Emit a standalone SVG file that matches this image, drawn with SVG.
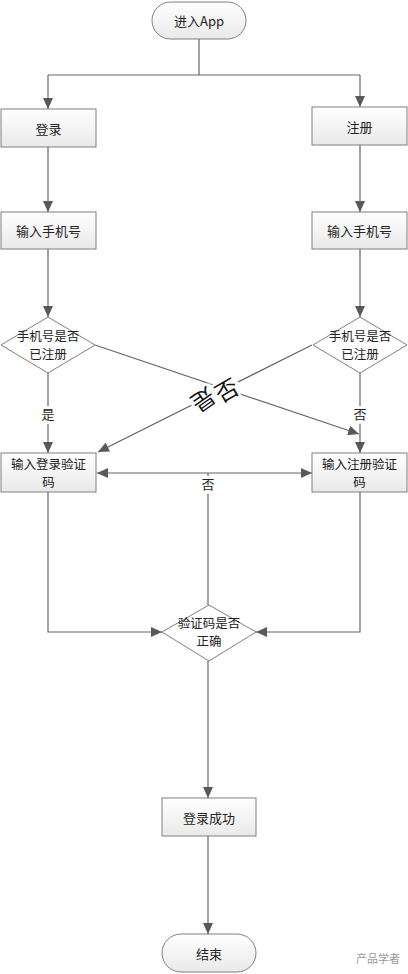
<svg xmlns="http://www.w3.org/2000/svg" width="408" height="974" viewBox="0 0 408 974">
<defs>
<linearGradient id="g" x1="0" y1="0" x2="0" y2="1">
<stop offset="0" stop-color="#ffffff"/>
<stop offset="1" stop-color="#e9e9e9"/>
</linearGradient>
<marker id="ah" markerUnits="userSpaceOnUse" markerWidth="12" markerHeight="10" refX="11" refY="5" orient="auto-start-reverse">
<path d="M0,0 L11,5 L0,10 Z" fill="#595959"/>
</marker>
<style>
.n{fill:url(#g);stroke:#7f7f7f;stroke-width:1}
.d{fill:#ffffff;stroke:#7f7f7f;stroke-width:1}
.t{font-family:"Noto Sans CJK SC","Liberation Sans",sans-serif;font-size:13px;fill:#222;text-anchor:middle;dominant-baseline:central}
.t2{font-size:12.5px}
.c{fill:none;stroke:#666;stroke-width:1.2}
.a{marker-end:url(#ah)}
.lb{font-family:"Noto Sans CJK SC",sans-serif;font-size:13px;fill:#222;text-anchor:middle;dominant-baseline:central;stroke:#fff;stroke-width:6;paint-order:stroke}
.big{font-family:"Noto Sans CJK SC",sans-serif;font-size:23px;fill:#111;text-anchor:middle;dominant-baseline:central;stroke:#fff;stroke-width:5;paint-order:stroke}
</style>
</defs>
<g id="connectors">
<polyline class="c" points="199,39 199,75"/>
<polyline class="c" points="48,75 360,75"/>
<line class="c a" x1="48" y1="75" x2="48" y2="109"/>
<line class="c a" x1="360" y1="75" x2="360" y2="107"/>
<line class="c a" x1="48" y1="147" x2="48" y2="212"/>
<line class="c a" x1="360" y1="145" x2="360" y2="212"/>
<line class="c a" x1="48" y1="249" x2="48" y2="317"/>
<line class="c a" x1="360" y1="249" x2="360" y2="317"/>
<line class="c a" x1="48" y1="373" x2="48" y2="453"/>
<line class="c a" x1="360" y1="373" x2="360" y2="453"/>
<line class="c a" x1="95" y1="345" x2="359" y2="434"/>
<line class="c a" x1="312" y1="345" x2="98" y2="452"/>
<line class="c" x1="208" y1="605" x2="208" y2="473"/>
<line class="c a" x1="208" y1="473" x2="97" y2="473"/>
<line class="c a" x1="208" y1="473" x2="312" y2="473"/>
<polyline class="c a" points="48,492 48,632 162,632"/>
<polyline class="c a" points="360,492 360,632 256,632"/>
<line class="c a" x1="208" y1="661" x2="208" y2="798"/>
<line class="c a" x1="208" y1="836" x2="208" y2="934"/>
<text class="lb" x="48" y="413">是</text>
<text class="lb" x="360" y="413">否</text>
<text class="lb" x="208" y="483">否</text>
<text class="big" transform="translate(226,389) rotate(-30)">否</text>
<text class="big" transform="translate(204,401) rotate(145)">是</text>
</g>
<g id="start">
<rect class="n" x="152" y="2" width="94" height="37" rx="18.5"/>
<text class="t" x="199" y="20.5">进入App</text>
</g>
<g id="login">
<rect class="n" x="1" y="109" width="95" height="38"/>
<text class="t" x="48.5" y="128">登录</text>
</g>
<g id="register">
<rect class="n" x="312" y="107" width="95" height="38"/>
<text class="t" x="359.5" y="126">注册</text>
</g>
<g id="phoneL">
<rect class="n" x="1" y="212" width="95" height="37"/>
<text class="t" x="48.5" y="230.5">输入手机号</text>
</g>
<g id="phoneR">
<rect class="n" x="312" y="212" width="95" height="37"/>
<text class="t" x="359.5" y="230.5">输入手机号</text>
</g>
<g id="checkL">
<polygon class="d" points="48,317 95,345 48,373 1,345"/>
<text class="t t2" x="48" y="335">手机号是否</text>
<text class="t t2" x="48" y="353">已注册</text>
</g>
<g id="checkR">
<polygon class="d" points="360,317 407,345 360,373 313,345"/>
<text class="t t2" x="360" y="335">手机号是否</text>
<text class="t t2" x="360" y="353">已注册</text>
</g>
<g id="codeL">
<rect class="n" x="1" y="453" width="95" height="39"/>
<text class="t t2" x="48.5" y="463">输入登录验证</text>
<text class="t t2" x="48.5" y="481">码</text>
</g>
<g id="codeR">
<rect class="n" x="312" y="453" width="95" height="39"/>
<text class="t t2" x="359.5" y="463">输入注册验证</text>
<text class="t t2" x="359.5" y="481">码</text>
</g>
<g id="verify">
<polygon class="d" points="209,605 256,632 209,661 162,632"/>
<text class="t t2" x="209" y="622">验证码是否</text>
<text class="t t2" x="209" y="640">正确</text>
</g>
<g id="success">
<rect class="n" x="162" y="798" width="94" height="38"/>
<text class="t" x="209" y="817">登录成功</text>
</g>
<g id="end">
<rect class="n" x="162" y="934" width="94" height="38" rx="19"/>
<text class="t" x="209" y="953">结束</text>
</g>
<g id="watermark">
<text x="356" y="958" font-family="Noto Sans CJK SC,sans-serif" font-size="11" fill="#9a9a9a" dominant-baseline="central">产品学者</text>
</g>
</svg>
